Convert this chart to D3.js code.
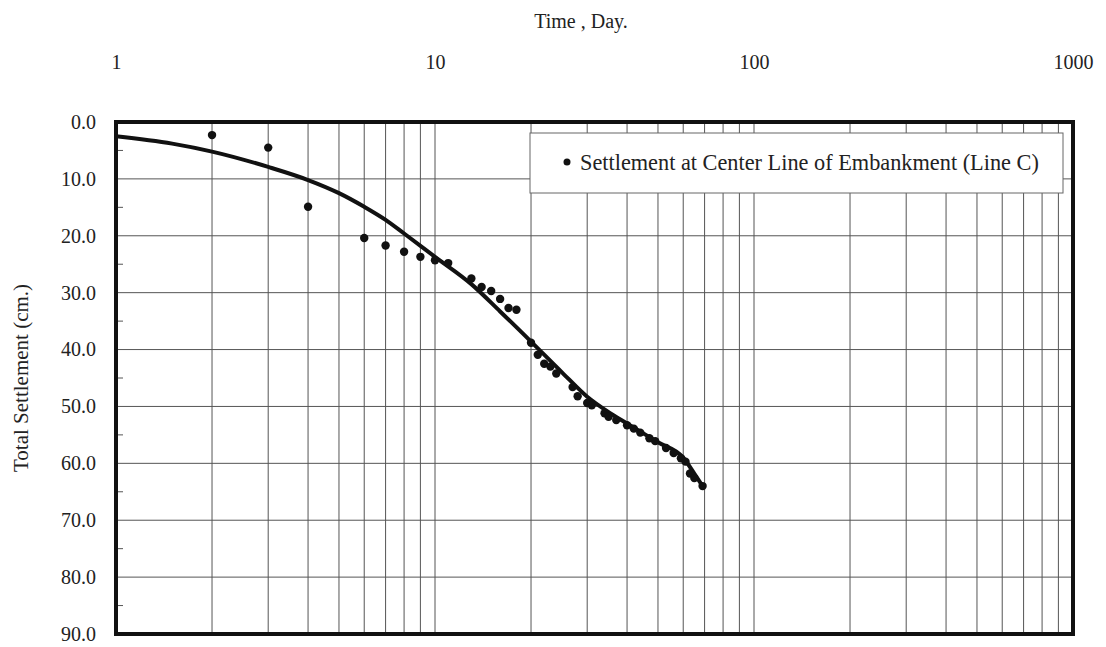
<!DOCTYPE html>
<html>
<head>
<meta charset="utf-8">
<script src="https://cdn.jsdelivr.net/npm/d3@7"></script>
<style>
  html, body { margin: 0; padding: 0; background: #fff; }
  svg { display: block; }
  text { font-family: "Liberation Serif", "Times New Roman", serif; fill: #222; }
</style>
</head>
<body>
<svg id="chart" width="1106" height="647"></svg>
<script>
// Axis ticks
const dayTicks = [1, 10, 100, 1000];
const settlementTicks = [0, 10, 20, 30, 40, 50, 60, 70, 80, 90];
const settlementMinorTicks = [5, 15, 25, 35, 45, 55, 65, 75, 85];

// Measured settlement at the centre line (day, cm)
const obsDays = [2, 3, 4, 6, 7, 8, 9, 10, 11, 13, 14, 15, 16, 17, 18,
  20, 21, 22, 23, 24, 27, 28, 30, 31, 34, 35, 37, 40, 42, 44, 47, 49,
  53, 56, 59, 61, 63, 65, 69];
const obsSettlement = [2.3, 4.5, 14.9, 20.4, 21.7, 22.8, 23.7, 24.3, 24.8, 27.5, 29.0, 29.7, 31.1, 32.7, 33.0,
  38.8, 40.9, 42.5, 43.0, 44.2, 46.6, 48.2, 49.4, 49.8, 51.2, 51.8, 52.4, 53.3, 53.9, 54.6, 55.6, 56.1,
  57.3, 58.2, 59.1, 59.7, 61.8, 62.6, 64.0];

// Fitted settlement curve (day, cm)
const fitDays = [1, 1.5, 2, 3, 4, 5, 6, 7, 8, 10, 13, 16, 20, 25, 30, 35, 40, 50, 60, 65, 69];
const fitSettlement = [2.5, 3.8, 5.2, 7.9, 10.2, 12.5, 14.9, 17.2, 19.6, 23.7, 28.5, 33.3, 38.6, 44.0, 48.3, 51.0, 53.0, 56.3, 59.0, 61.8, 64.0];

const legendLabel = "Settlement at Center Line of Embankment (Line C)";

(function () {
  const svg = d3.select("#chart");
  const pLeft = 116, pRight = 1073, pTop = 122, pBottom = 634;

  const x = d3.scaleLog().domain([1, 1000]).range([pLeft, pRight]);
  const y = d3.scaleLinear().domain([0, 90]).range([pTop, pBottom]);

  // Vertical grid lines at every log subdivision
  const gridDays = [];
  for (let dec = 1; dec < 1000; dec *= 10) {
    for (let k = 1; k <= 9; k++) gridDays.push(dec * k);
  }

  const grid = svg.append("g");
  grid.selectAll("line.v")
    .data(gridDays.filter(d => d > 1))
    .join("line")
    .attr("x1", d => x(d)).attr("x2", d => x(d))
    .attr("y1", pTop).attr("y2", pBottom)
    .attr("stroke", "#555").attr("stroke-width", 1);

  grid.selectAll("line.h")
    .data(settlementTicks.filter(v => v > 0 && v < 90))
    .join("line")
    .attr("x1", pLeft).attr("x2", pRight)
    .attr("y1", d => y(d)).attr("y2", d => y(d))
    .attr("stroke", "#555").attr("stroke-width", 1);

  // Small minor ticks along the inner left edge
  grid.selectAll("line.m")
    .data(settlementMinorTicks)
    .join("line")
    .attr("x1", pLeft + 2).attr("x2", pLeft + 7)
    .attr("y1", d => y(d)).attr("y2", d => y(d))
    .attr("stroke", "#555").attr("stroke-width", 1);

  // Top axis (time, log scale)
  const xAxis = d3.axisTop(x).tickValues(dayTicks).tickFormat(d3.format("d")).tickSize(0);
  const gx = svg.append("g").attr("transform", `translate(0,${pTop - 50})`).call(xAxis);
  gx.select(".domain").remove();
  gx.selectAll("text").attr("font-size", 20).attr("font-family", "Liberation Serif").attr("fill", "#222");

  // Left axis (settlement)
  const yAxis = d3.axisLeft(y).tickValues(settlementTicks).tickFormat(d3.format(".1f")).tickSize(0);
  const gy = svg.append("g").attr("transform", `translate(${pLeft - 17},0)`).call(yAxis);
  gy.select(".domain").remove();
  gy.selectAll("text").attr("font-size", 20).attr("font-family", "Liberation Serif").attr("fill", "#222");

  // Axis titles
  svg.append("text")
    .attr("x", 581).attr("y", 28)
    .attr("text-anchor", "middle")
    .attr("font-size", 20)
    .text("Time , Day.");

  svg.append("text")
    .attr("transform", `translate(28,${(pTop + pBottom) / 2}) rotate(-90)`)
    .attr("text-anchor", "middle")
    .attr("font-size", 21)
    .text("Total Settlement (cm.)");

  // Legend
  const lg = svg.append("g");
  lg.append("rect")
    .attr("x", 530).attr("y", 133).attr("width", 533).attr("height", 60)
    .attr("fill", "#fff").attr("stroke", "#666").attr("stroke-width", 1);
  lg.append("circle").attr("cx", 567).attr("cy", 162).attr("r", 3.5).attr("fill", "#111");
  lg.append("text")
    .attr("x", 580).attr("y", 170)
    .attr("font-size", 22.3)
    .text(legendLabel);

  // Fitted curve
  const fit = fitDays.map((d, i) => [d, fitSettlement[i]]);
  svg.append("path")
    .datum(fit)
    .attr("fill", "none")
    .attr("stroke", "#111")
    .attr("stroke-width", 4)
    .attr("stroke-linecap", "round")
    .attr("d", d3.line().x(d => x(d[0])).y(d => y(d[1])).curve(d3.curveMonotoneX));

  // Observed points
  const obs = obsDays.map((d, i) => [d, obsSettlement[i]]);
  svg.append("g").selectAll("circle")
    .data(obs)
    .join("circle")
    .attr("cx", d => x(d[0]))
    .attr("cy", d => y(d[1]))
    .attr("r", 4.2)
    .attr("fill", "#111");

  // Heavy frame
  svg.append("rect")
    .attr("x", pLeft).attr("y", pTop)
    .attr("width", pRight - pLeft).attr("height", pBottom - pTop)
    .attr("fill", "none").attr("stroke", "#111").attr("stroke-width", 4);
})();
</script>
</body>
</html>
